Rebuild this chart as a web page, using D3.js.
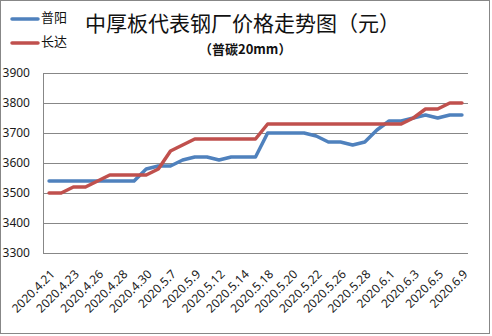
<!DOCTYPE html>
<html>
<head>
<meta charset="utf-8">
<script src="https://cdn.jsdelivr.net/npm/d3@7"></script>
<style>
  body { margin: 0; background: #fff; }
  svg { display: block; }
</style>
</head>
<body>
<script>
// data
var dates = ["2020.4.21", "2020.4.22", "2020.4.23", "2020.4.24", "2020.4.26", "2020.4.27",
  "2020.4.28", "2020.4.29", "2020.4.30", "2020.5.6", "2020.5.7", "2020.5.8", "2020.5.9",
  "2020.5.11", "2020.5.12", "2020.5.13", "2020.5.14", "2020.5.15", "2020.5.18", "2020.5.19",
  "2020.5.20", "2020.5.21", "2020.5.22", "2020.5.25", "2020.5.26", "2020.5.27", "2020.5.28",
  "2020.5.29", "2020.6.1", "2020.6.2", "2020.6.3", "2020.6.4", "2020.6.5", "2020.6.8", "2020.6.9"];

var puyang = [3540, 3540, 3540, 3540, 3540, 3540, 3540, 3540, 3580, 3590, 3590, 3610, 3620,
  3620, 3610, 3620, 3620, 3620, 3700, 3700, 3700, 3700, 3690, 3670, 3670, 3660, 3670,
  3710, 3740, 3740, 3750, 3760, 3750, 3760, 3760];

var changda = [3500, 3500, 3520, 3520, 3540, 3560, 3560, 3560, 3560, 3580, 3640, 3660, 3680,
  3680, 3680, 3680, 3680, 3680, 3730, 3730, 3730, 3730, 3730, 3730, 3730, 3730, 3730,
  3730, 3730, 3730, 3750, 3780, 3780, 3800, 3800];

var yTicks = [3300, 3400, 3500, 3600, 3700, 3800, 3900];
var xTickLabels = dates.filter((d, i) => i % 2 === 0);

var series = [
  { name: "普阳", values: puyang, color: "#4F81BD" },
  { name: "长达", values: changda, color: "#C0504D" }
];

var width = 492, height = 336;
var gridColor = "#878787";

var svg = d3.select("body").append("svg")
  .attr("width", width)
  .attr("height", height);

// outer chart frame
svg.append("rect")
  .attr("x", 0.5)
  .attr("y", 0.5)
  .attr("width", 489)
  .attr("height", 333)
  .attr("fill", "#fff")
  .attr("stroke", gridColor);

var x = d3.scalePoint()
  .domain(dates)
  .range([43, 468])
  .padding(0.5);

var y = d3.scaleLinear()
  .domain([3300, 3900])
  .range([253, 73]);

// y axis with gridlines
svg.append("g")
  .attr("transform", "translate(43,0)")
  .call(d3.axisLeft(y).tickValues(yTicks).tickFormat(d3.format("d"))
    .tickSize(-425).tickSizeOuter(0).tickPadding(13))
  .call(g => g.select(".domain").attr("stroke", gridColor))
  .call(g => g.selectAll(".tick line").attr("stroke", gridColor))
  .call(g => g.selectAll(".tick text")
    .attr("fill", "#1a1a1a")
    .attr("font-family", "Noto Sans, sans-serif")
    .attr("font-size", 12));

// x axis, rotated labels
svg.append("g")
  .attr("transform", "translate(0,253)")
  .call(d3.axisBottom(x).tickValues(xTickLabels).tickSize(0).tickPadding(0))
  .call(g => g.select(".domain").remove())
  .call(g => g.selectAll(".tick text")
    .attr("fill", "#1a1a1a")
    .attr("font-family", "Noto Sans, sans-serif")
    .attr("font-size", 12)
    .attr("text-anchor", "end")
    .attr("dy", "0.35em")
    .attr("transform", "translate(3,19) rotate(-45)"));

var line = d3.line()
  .x((d, i) => x(dates[i]))
  .y(d => y(d));

svg.append("g")
  .selectAll("path")
  .data(series)
  .join("path")
    .attr("fill", "none")
    .attr("stroke", d => d.color)
    .attr("stroke-width", 3.5)
    .attr("stroke-linejoin", "round")
    .attr("stroke-linecap", "round")
    .attr("d", d => line(d.values));

// legend
var legend = svg.append("g")
  .selectAll("g")
  .data(series)
  .join("g")
    .attr("transform", (d, i) => `translate(12,${19 + i * 24})`);

legend.append("line")
  .attr("x1", 0)
  .attr("x2", 26)
  .attr("stroke", d => d.color)
  .attr("stroke-width", 3.5)
  .attr("stroke-linecap", "round");

legend.append("text")
  .attr("x", 29)
  .attr("y", -2)
  .attr("dy", "0.35em")
  .attr("font-family", "Noto Sans CJK SC, sans-serif")
  .attr("font-size", 13)
  .attr("fill", "#111")
  .text(d => d.name);

// titles
svg.append("text")
  .attr("x", 85)
  .attr("y", 31)
  .attr("font-family", "Noto Sans CJK SC, sans-serif")
  .attr("font-size", 21)
  .attr("fill", "#111")
  .text("中厚板代表钢厂价格走势图（元）");

svg.append("text")
  .attr("x", 199)
  .attr("y", 54)
  .attr("font-family", "Noto Sans CJK SC, sans-serif")
  .attr("font-size", 13)
  .attr("font-weight", "bold")
  .attr("fill", "#111")
  .text("（普碳20mm）");
</script>
</body>
</html>
